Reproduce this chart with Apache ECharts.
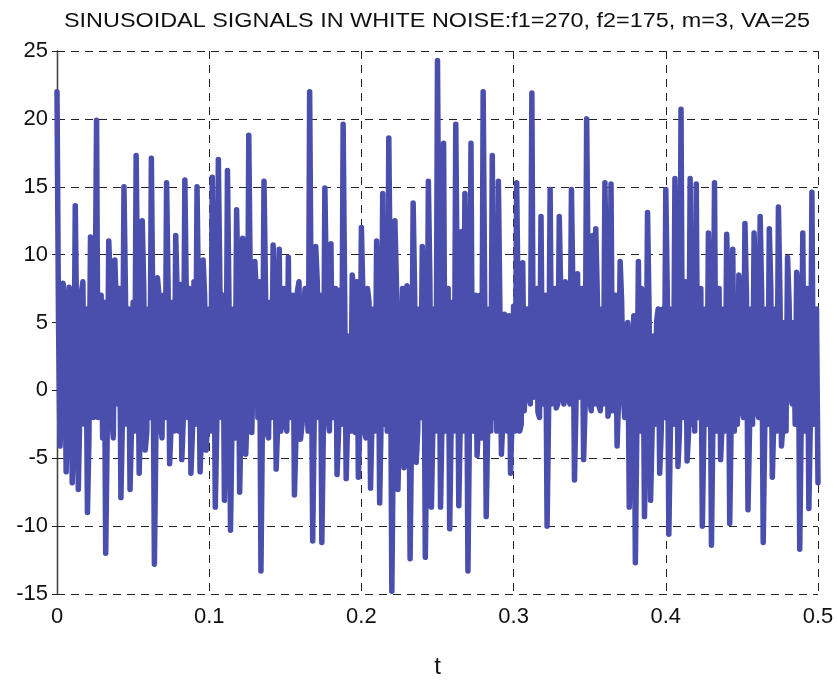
<!DOCTYPE html>
<html>
<head>
<meta charset="utf-8">
<script src="https://cdn.jsdelivr.net/npm/echarts@6/dist/echarts.min.js"></script>
<style>html,body{margin:0;padding:0;background:#fff}#c{width:838px;height:684px}</style>
</head>
<body>
<div id="c"></div>
<script>
const titleText = "SINUSOIDAL SIGNALS IN WHITE NOISE:f1=270, f2=175, m=3, VA=25";
const xAxisName = "t";
const sampleStep = 0.001;
const signal = [
 22.0,5.0,-4.1,-1.0,7.9,6.5,-6.0,-2.0,7.6,7.0,-6.8,-3.0,13.6,4.0,-7.3,-1.5,7.2,8.0,-2.5,6.0,
 -9.0,-3.5,11.3,7.5,-2.0,5.0,19.9,-2.0,3.0,7.0,-3.5,6.5,-12.0,-3.0,11.0,8.0,-2.0,-3.5,9.6,6.0,
 -1.0,7.5,-7.9,-2.0,15.0,7.0,-2.5,6.0,-7.3,-2.5,6.5,-3.0,17.3,6.5,-6.1,-1.5,12.5,7.5,-4.4,-3.0,
 6.0,-2.0,17.1,5.0,-12.8,-3.0,8.3,7.0,-2.5,-3.5,7.0,-2.0,15.3,7.5,-5.4,-2.5,6.5,-3.0,11.4,7.0,
 -3.0,7.8,-5.1,-2.0,15.5,6.5,-2.0,7.5,-6.1,-3.0,8.0,-2.5,15.0,6.0,-6.0,-3.0,9.6,7.0,-4.4,-2.0,
 6.0,-3.0,15.7,7.0,-8.6,-2.5,17.0,8.0,-2.0,7.0,-8.1,-3.0,16.2,6.5,-10.3,-2.5,6.0,-3.5,13.3,7.0,
 -7.5,-2.0,11.2,8.0,-4.7,-1.5,18.8,7.5,-3.1,-3.0,9.5,7.0,-2.0,8.0,-13.3,-2.0,15.4,7.5,-3.1,-3.5,
 6.5,-2.0,10.7,7.0,-5.8,-2.5,10.4,-3.0,1.0,7.5,-2.4,-3.0,9.8,-2.0,2.0,7.0,-7.7,-3.5,7.3,8.0,
 -3.6,-2.5,6.0,7.5,-1.0,-3.0,22.0,6.0,-11.1,-2.0,10.6,8.0,-2.0,7.0,-11.2,-3.0,14.9,7.5,-1.8,-3.0,
 10.8,-2.0,0.5,7.5,-6.2,-3.0,7.4,-2.5,19.6,7.0,-6.5,-2.0,4.0,-3.0,8.5,7.0,-3.1,8.0,-6.4,-2.5,
 12.0,7.0,-3.0,-3.5,7.5,6.5,-7.2,-2.0,6.0,-3.0,11.0,7.5,-8.3,-2.0,14.5,-2.5,3.0,-3.0,18.6,7.0,
 -14.8,-3.0,12.5,8.0,-7.3,-2.0,4.0,7.5,-5.7,-3.0,7.7,6.5,-12.4,-2.5,13.8,7.0,-5.3,-3.0,6.0,-2.0,
 10.6,7.5,-12.3,-3.0,15.4,8.0,-8.6,-2.5,6.0,-3.0,24.3,7.0,-8.6,-2.0,18.2,-3.0,2.0,7.5,-10.2,-2.5,
 6.5,-3.0,19.6,7.0,-8.5,-2.0,11.7,-3.0,14.5,7.5,-13.3,-2.5,18.2,-3.0,1.0,7.0,-4.8,-2.0,7.0,-3.5,
 22.0,7.0,-9.3,-2.5,6.0,-3.0,17.3,-2.0,2.0,-3.0,15.4,6.0,-4.7,-2.0,5.6,5.5,-3.0,5.5,-6.1,-2.0,
 6.2,-3.0,15.3,6.0,-3.0,-2.5,9.4,-1.5,2.0,6.0,0.0,-1.0,21.9,-0.5,3.0,7.5,-1.6,-2.0,12.8,-1.0,
 2.0,7.0,-10.0,-1.5,14.8,-1.0,4.0,7.5,-1.3,-1.0,12.8,7.0,-0.5,-1.0,8.0,7.5,-0.6,-1.0,14.8,7.0,
 -6.6,-1.0,8.6,-0.5,2.0,7.5,-5.1,-1.0,20.0,7.5,-0.6,-1.5,11.4,-1.0,11.9,7.0,-1.1,-1.5,6.0,-1.0,
 15.3,7.5,-1.9,-1.0,15.2,-1.5,3.0,7.0,-4.1,-0.5,9.5,6.5,-0.2,-2.0,4.1,5.0,-8.6,-3.0,3.0,5.5,
 -12.7,-2.5,9.5,-3.0,7.5,5.5,-9.3,-2.0,13.1,6.0,-8.1,-3.0,4.0,-2.5,5.1,6.0,-6.1,-3.0,6.0,-2.0,
 14.8,7.0,-10.6,-3.0,6.0,-2.5,15.6,7.5,-5.6,-3.0,20.7,-2.0,2.0,8.0,-5.2,-3.0,15.6,-2.5,5.0,-3.0,
 15.2,-2.0,1.0,7.5,-10.0,-3.0,6.0,-2.5,11.6,7.0,-11.4,-2.0,15.3,-3.0,2.0,7.5,-5.1,-2.5,6.0,-3.0,
 11.5,7.0,-9.8,-2.0,10.4,-3.0,2.0,-2.5,8.5,7.5,-1.4,-2.0,12.3,7.0,-8.8,-3.0,6.0,-2.5,11.6,7.5,
 -1.6,-2.0,12.8,7.0,-11.2,-3.0,6.0,-2.5,11.9,7.5,-6.4,-2.0,6.0,-3.0,13.5,7.0,-4.1,-2.5,5.0,-3.0,
 9.8,6.5,-0.1,-1.0,5.0,-2.5,8.7,7.0,-11.7,-2.0,11.6,-3.0,2.0,7.5,-8.7,-2.0,14.6,-2.5,5.0,6.0,
 -6.8
];
const xTicks = [0, 0.1, 0.2, 0.3, 0.4, 0.5];
const yTicks = [-15, -10, -5, 0, 5, 10, 15, 20, 25];

const seriesData = signal.map((v, i) => [+(i * sampleStep).toFixed(4), v]);

const chart = echarts.init(document.getElementById('c'), null, {renderer: 'canvas'});
const fontFam = 'Liberation Sans, Arial, Helvetica, sans-serif';
const dashed = {type: [8, 6], color: '#222', width: 1};
chart.setOption({
  animation: false,
  backgroundColor: '#fff',
  graphic: [{
    type: 'text', x: 64, y: 11, scaleX: 1.17, originX: 0, originY: 0,
    style: {text: titleText, font: 'normal 20px ' + fontFam, fill: '#111', align: 'left', verticalAlign: 'top'}
  }],
  grid: {left: 57, right: 20, top: 51, bottom: 80, containLabel: false},
  xAxis: [{
    type: 'value', min: 0, max: 0.5, interval: 0.1,
    name: xAxisName, nameLocation: 'middle', nameGap: 61,
    nameTextStyle: {fontFamily: fontFam, fontSize: 24, color: '#111'},
    axisLine: {show: true, lineStyle: {color: '#444', width: 1.3}},
    axisTick: {show: true, inside: true, length: 5, lineStyle: {color: '#222'}},
    axisLabel: {fontFamily: fontFam, fontSize: 22, color: '#111', margin: 12,
      formatter: v => xTicks.includes(+v.toFixed(1)) ? String(+v.toFixed(1)) : ''},
    splitLine: {show: true, lineStyle: dashed}
  }, {
    type: 'value', position: 'top', min: 0, max: 0.5, interval: 0.1,
    axisLine: {show: true, lineStyle: {color: '#444', width: 1.3}},
    axisTick: {show: true, inside: true, length: 5, lineStyle: {color: '#222'}},
    axisLabel: {show: false}, splitLine: {show: false}
  }],
  yAxis: [{
    type: 'value', min: -15, max: 25, interval: 5,
    axisLine: {show: true, lineStyle: {color: '#444', width: 1.3}},
    axisTick: {show: true, inside: true, length: 5, lineStyle: {color: '#222'}},
    axisLabel: {fontFamily: fontFam, fontSize: 22, color: '#111', margin: 9,
      formatter: v => yTicks.includes(v) ? String(v) : ''},
    splitLine: {show: true, lineStyle: dashed}
  }, {
    type: 'value', position: 'right', min: -15, max: 25, interval: 5,
    axisLine: {show: true, lineStyle: {color: '#444', width: 1.3}},
    axisTick: {show: true, inside: true, length: 5, lineStyle: {color: '#222'}},
    axisLabel: {show: false}, splitLine: {show: false}
  }],
  series: [{
    type: 'line', xAxisIndex: 0, yAxisIndex: 0,
    data: seriesData, showSymbol: false, symbol: 'none',
    lineStyle: {color: '#4a4fae', width: 5.5, cap: 'round', join: 'round'},
    z: 3
  }]
});
</script>
</body>
</html>
